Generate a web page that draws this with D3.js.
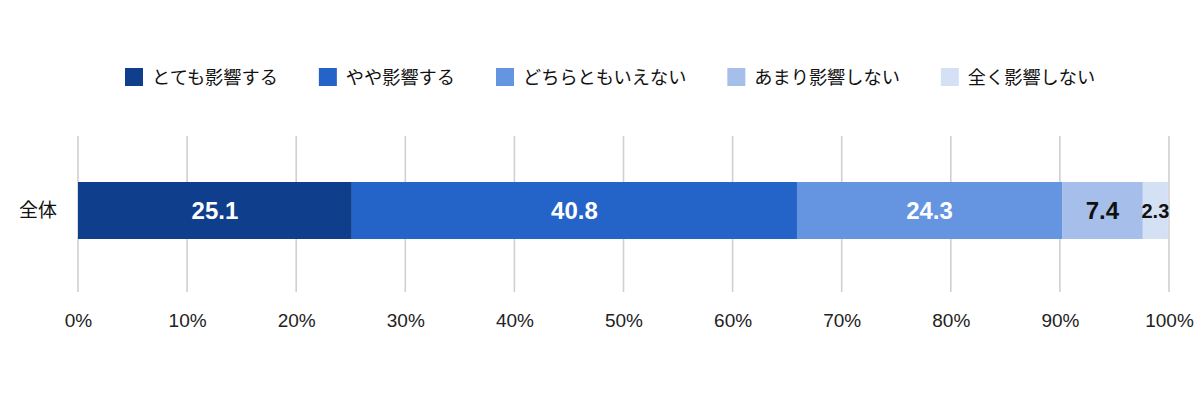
<!DOCTYPE html>
<html><head><meta charset="utf-8">
<script src="https://cdn.jsdelivr.net/npm/d3@7/dist/d3.min.js"></script>
<style>
html,body{margin:0;padding:0;background:#fff;}
svg{display:block;}
</style></head>
<body>
<svg id="chart" width="1200" height="400"></svg>
<script>
const categories = ["全体"];
const seriesNames = ["とても影響する","やや影響する","どちらともいえない","あまり影響しない","全く影響しない"];
const seriesValues = [[25.1],[40.8],[24.3],[7.4],[2.3]];
const tickValues = [0,10,20,30,40,50,60,70,80,90,100];
const tickLabels = ["0%","10%","20%","30%","40%","50%","60%","70%","80%","90%","100%"];
const colors = ["#0f3f8c","#2463c8","#6595e1","#a5bfea","#d4e1f5"];
const labelColors = ["#fff","#fff","#fff","#111","#111"];
const labelSizes = [24,24,24,24,20];

const svg = d3.select("#chart");
const jpFont = "'Noto Sans CJK JP','Noto Sans',sans-serif";
const numFont = "'Liberation Sans',Arial,Helvetica,sans-serif";

const x = d3.scaleLinear().domain([0,100]).range([78,1169]);
const y = d3.scaleBand().domain(categories).range([182,239]).padding(0);

// gridlines
svg.append("g").selectAll("line").data(tickValues).join("line")
  .attr("x1",d=>x(d)).attr("x2",d=>x(d))
  .attr("y1",136).attr("y2",292)
  .attr("stroke","#d0d0d4").attr("stroke-width",1.6);

// stacked data
const rows = categories.map((c,i)=>{
  const o={cat:c}; seriesNames.forEach((s,j)=>o[s]=seriesValues[j][i]); return o;});
const stack = d3.stack().keys(seriesNames)(rows);

const g = svg.append("g");
stack.forEach((layer,j)=>{
  g.selectAll(null).data(layer).join("rect")
    .attr("x",d=>x(d[0])).attr("width",d=>x(d[1])-x(d[0]))
    .attr("y",d=>y(d.data.cat)).attr("height",y.bandwidth())
    .attr("fill",colors[j]);
  g.selectAll(null).data(layer).join("text")
    .attr("x",d=>(x(d[0])+x(d[1]))/2)
    .attr("y",d=>y(d.data.cat)+y.bandwidth()/2)
    .attr("dy","0.36em")
    .attr("text-anchor","middle")
    .attr("font-family",numFont).attr("font-weight","bold")
    .attr("font-size",labelSizes[j])
    .attr("fill",labelColors[j])
    .text(d=>d.data[seriesNames[j]].toFixed(1));
});

// category axis labels
svg.append("g").selectAll("text").data(categories).join("text")
  .attr("x",57).attr("y",d=>y(d)+y.bandwidth()/2).attr("dy","0.35em")
  .attr("text-anchor","end").attr("font-family",jpFont).attr("font-size",19)
  .attr("fill","#111").text(d=>d);

// x axis labels
const xAxis = d3.axisBottom(x).tickValues(tickValues).tickFormat((d,i)=>tickLabels[i]).tickSize(0).tickPadding(0);
const ax = svg.append("g").attr("transform","translate(0,313)").call(xAxis);
ax.select(".domain").remove();
ax.selectAll("text").attr("font-family",numFont).attr("font-size",19).attr("fill","#222").attr("dy","0.71em");

// legend
const leg = svg.append("g");
let lx = 125;
seriesNames.forEach((s,j)=>{
  leg.append("rect").attr("x",lx).attr("y",68).attr("width",18).attr("height",18).attr("fill",colors[j]);
  const t = leg.append("text").attr("x",lx+27).attr("y",77).attr("dy","0.36em")
    .attr("font-family",jpFont).attr("font-size",18.2).attr("fill","#111").text(s);
  lx += 27 + t.node().getComputedTextLength() + 41;
});
</script>
</body></html>
